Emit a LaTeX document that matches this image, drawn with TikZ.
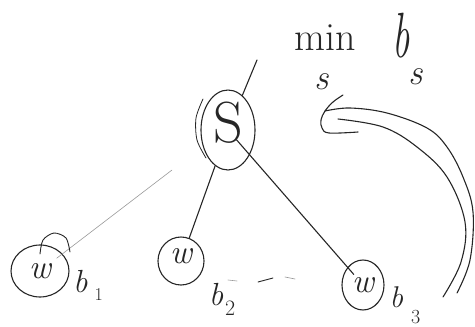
\documentclass[tikz,border=0pt]{standalone}
\usetikzlibrary{shapes.geometric}
\usepackage{graphicx}
\tikzset{
  ink/.style={draw=black!85, line width=1.1pt, line cap=round, line join=round},
  faint/.style={draw=black!40, line width=0.6pt, line cap=round},
  bubble/.style={ink, ellipse, inner sep=0pt, text=black!85},
  lbl/.style={inner sep=0pt, anchor=base, text=black!85},
}
\begin{document}
\begin{tikzpicture}[x=1pt,y=-1pt]
\useasboundingbox (0,0) rectangle (475,327);
% title
\node[lbl] (mn) at (325,50) {\fontsize{40}{40}\selectfont min};
\node[lbl] (mns) at (322,89) {\fontsize{36}{36}\selectfont\itshape s};
\node[lbl] (bs) at (401,57) {\scalebox{0.6}[1]{\fontsize{64}{64}\selectfont\itshape b}};
\node[lbl] (bss) at (416,84) {\fontsize{36}{36}\selectfont\itshape s};
% nodes
\node[bubble, minimum width=54pt, minimum height=66pt, text depth=16pt] (S) at (228,130) {\fontsize{58}{58}\selectfont S};
\node[bubble, minimum width=58pt, minimum height=52pt] (w1) at (40,271) {\fontsize{34}{34}\selectfont\itshape w};
\node[bubble, minimum width=46pt, minimum height=48pt, text depth=10pt] (w2) at (181,261) {\fontsize{34}{34}\selectfont\itshape w};
\node[bubble, minimum width=42pt, minimum height=50pt] (w3) at (363,285) {\fontsize{34}{34}\selectfont\itshape w};
% labels
\node[lbl] (b1) at (88,292) {\fontsize{32}{32}\selectfont\itshape b\hspace{7pt}\upshape\raisebox{-8pt}{\fontsize{18}{18}\selectfont 1}};
\node[lbl] (b2) at (222,305) {\fontsize{32}{32}\selectfont\itshape b\hspace{2pt}\upshape\raisebox{-10pt}{\fontsize{22}{22}\selectfont 2}};
\node[lbl] (b3) at (405,307) {\fontsize{30}{30}\selectfont\itshape b\hspace{8pt}\upshape\raisebox{-16pt}{\fontsize{20}{20}\selectfont 3}};
% connectors
\coordinate (t) at (257,60);
\coordinate (f1) at (172,170);
\draw[ink] (t) -- (S);
\draw[ink] (S) -- (w2);
\draw[ink, shorten <=13pt, shorten >=14pt] (S.center) -- (w3.center);
\draw[faint, shorten >=21pt] (f1) -- (w1.center);
% extra strokes
\draw[ink, line width=0.8pt] plot[smooth] coordinates {(203,99) (196,118) (197,140) (206,158)};
\draw[ink, line width=0.9pt] plot[smooth] coordinates {(40,254) (43,240) (54,233) (66,238) (70,252)};
\draw[faint] (228,280) -- (237,281);
\draw[ink, line width=0.9pt] (258,282) -- (273,278);
\draw[faint] (285,277) -- (295,279);
% big loop
\draw[ink] plot[smooth, tension=0.6] coordinates {(343,95) (333,102) (325,111) (321,120) (322,128) (329,133) (358,132)};
\draw[ink] plot[smooth, tension=0.6] coordinates {(325,111) (350,108) (387,113) (427,128) (447,147) (463,177) (473,212) (470,260) (457,293)};
\draw[ink] plot[smooth, tension=0.6] coordinates {(338,119) (383,127) (417,147) (447,177) (465,222) (461,262) (443,297)};
\end{tikzpicture}
\end{document}
